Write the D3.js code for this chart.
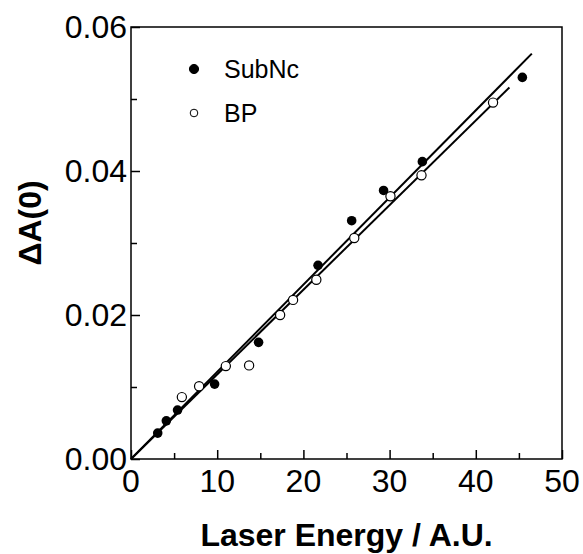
<!DOCTYPE html>
<html>

<head>
  <meta charset="utf-8" />
  <title>Delta A(0) vs Laser Energy</title>
  <style>
    body { margin: 0; background: #fff; }
    svg { display: block; font-family: "Liberation Sans", Arial, sans-serif; }
  </style>
</head>

<body>
  <svg id="chart" width="583" height="554"></svg>

  <script src="https://cdn.jsdelivr.net/npm/d3@7"></script>

  <script>

    // data
    var subncX = [3.1, 4.1, 5.4, 9.7, 14.8, 21.7, 25.6, 29.3, 33.8, 45.4]
    var subncY = [0.0036, 0.0053, 0.0068, 0.0104, 0.0162, 0.0269, 0.0331, 0.0373, 0.0413, 0.0530]
    var bpX = [5.9, 7.9, 11.0, 13.7, 17.3, 18.8, 21.5, 25.9, 30.1, 33.7, 42.0]
    var bpY = [0.0086, 0.0101, 0.0129, 0.0130, 0.0200, 0.0221, 0.0249, 0.0307, 0.0365, 0.0394, 0.0495]
    // linear fits, drawn from origin to end point
    var subncFit = [[0, 0], [46.5, 0.0563]]
    var bpFit = [[0, 0], [43.9, 0.0516]]

    var xTicks = [0, 10, 20, 30, 40, 50]
    var xMinor = [5, 15, 25, 35, 45]
    var yTicks = [0, 0.02, 0.04, 0.06]
    var yMinor = [0.01, 0.03, 0.05]
    var legendNames = ['SubNc', 'BP']

    // plot box (note: "top" is a reserved window prop, so use a prefix)
    var plotLeft = 131, plotRight = 562, plotTop = 27, plotBottom = 459

    var x = d3.scaleLinear().domain([0, 50]).range([plotLeft, plotRight])
    var y = d3.scaleLinear().domain([0, 0.06]).range([plotBottom, plotTop])

    var svg = d3.select('#chart')

    // frame
    svg.append('rect')
      .attr('x', plotLeft).attr('y', plotTop)
      .attr('width', plotRight - plotLeft).attr('height', plotBottom - plotTop)
      .attr('fill', 'none').attr('stroke', '#000').attr('stroke-width', 1.5)

    // x axis, ticks pointing inward
    var xAxis = svg.append('g').attr('transform', 'translate(0,' + plotBottom + ')')
    xAxis.call(d3.axisTop(x).tickValues(xTicks).tickSize(9).tickFormat(''))
    xAxis.append('g').call(d3.axisTop(x).tickValues(xMinor).tickSize(6).tickFormat(''))
    xAxis.selectAll('.domain').remove()
    xAxis.selectAll('line').attr('stroke', '#000').attr('stroke-width', 1.5)

    svg.append('g').selectAll('text')
      .data(xTicks)
      .enter()
      .append('text')
      .attr('x', function (d) { return x(d) })
      .attr('y', plotBottom + 33)
      .attr('text-anchor', 'middle')
      .style('font-size', '32px')
      .text(function (d) { return d })

    // y axis, ticks pointing inward
    var yAxis = svg.append('g').attr('transform', 'translate(' + plotLeft + ',0)')
    yAxis.call(d3.axisRight(y).tickValues(yTicks).tickSize(9).tickFormat(''))
    yAxis.append('g').call(d3.axisRight(y).tickValues(yMinor).tickSize(6).tickFormat(''))
    yAxis.selectAll('.domain').remove()
    yAxis.selectAll('line').attr('stroke', '#000').attr('stroke-width', 1.5)

    svg.append('g').selectAll('text')
      .data(yTicks)
      .enter()
      .append('text')
      .attr('x', plotLeft - 4)
      .attr('y', function (d) { return y(d) + 10.5 })
      .attr('text-anchor', 'end')
      .style('font-size', '32px')
      .text(function (d) { return d3.format('.2f')(d) })

    // axis titles
    svg.append('text')
      .attr('x', (plotLeft + plotRight) / 2)
      .attr('y', 546)
      .attr('text-anchor', 'middle')
      .style('font-size', '32px')
      .style('font-weight', 'bold')
      .text('Laser Energy / A.U.')

    svg.append('text')
      .attr('transform', 'translate(41,223) rotate(-90)')
      .attr('text-anchor', 'middle')
      .style('font-size', '32px')
      .style('font-weight', 'bold')
      .text('\u0394A(0)')

    // fit lines
    var line = d3.line()
      .x(function (d) { return x(d[0]) })
      .y(function (d) { return y(d[1]) })

    svg.append('path').datum(subncFit).attr('d', line)
      .attr('fill', 'none').attr('stroke', '#000').attr('stroke-width', 2)
    svg.append('path').datum(bpFit).attr('d', line)
      .attr('fill', 'none').attr('stroke', '#000').attr('stroke-width', 2)

    // points
    svg.append('g').selectAll('circle')
      .data(bpX)
      .enter()
      .append('circle')
      .attr('cx', function (d) { return x(d) })
      .attr('cy', function (d, i) { return y(bpY[i]) })
      .attr('r', 4.6)
      .attr('fill', '#fff').attr('stroke', '#000').attr('stroke-width', 1.2)

    svg.append('g').selectAll('circle')
      .data(subncX)
      .enter()
      .append('circle')
      .attr('cx', function (d) { return x(d) })
      .attr('cy', function (d, i) { return y(subncY[i]) })
      .attr('r', 4.8)
      .attr('fill', '#000')

    // legend
    var legend = svg.append('g').selectAll('g')
      .data(legendNames)
      .enter()
      .append('g')
      .attr('transform', function (d, i) { return 'translate(194,' + (69 + i * 44) + ')' })

    legend.append('circle')
      .attr('r', function (d, i) { return i == 0 ? 4.6 : 3.8 })
      .attr('fill', function (d, i) { return i == 0 ? '#000' : '#fff' })
      .attr('stroke', '#000').attr('stroke-width', 1)

    legend.append('text')
      .attr('x', 30)
      .attr('y', 8.5)
      .style('font-size', '25px')
      .text(function (d) { return d })

  </script>

</body>

</html>
